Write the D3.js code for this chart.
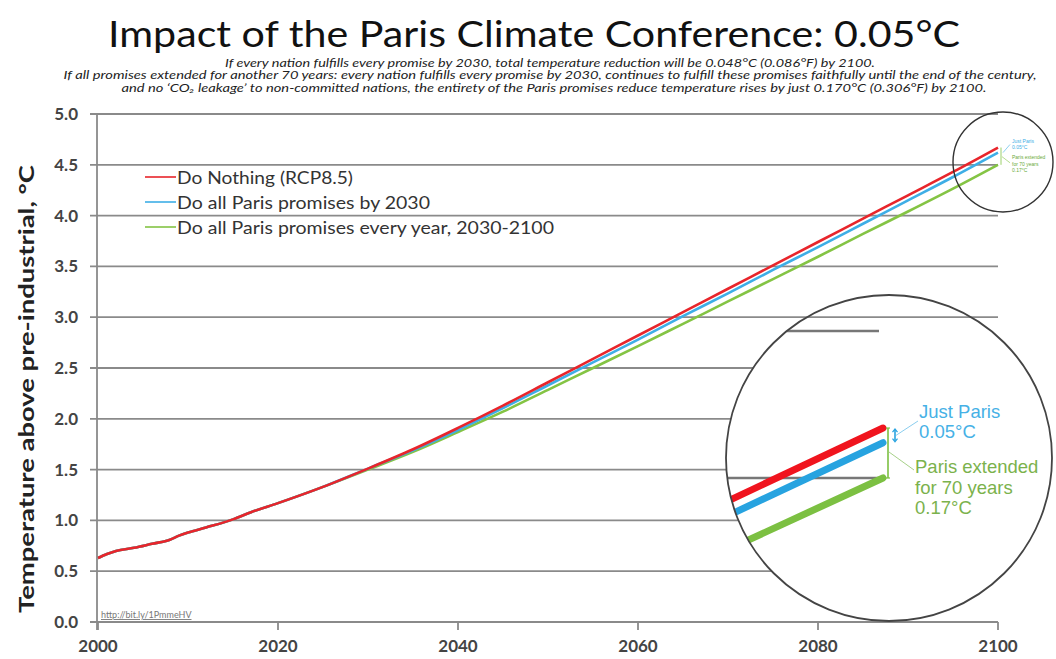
<!DOCTYPE html>
<html>
<head>
<meta charset="utf-8">
<script src="https://cdn.jsdelivr.net/npm/d3@7"></script>
<style>
  html, body { margin: 0; padding: 0; background: #fff; }
  svg { display: block; }
</style>
</head>
<body>
<svg id="chart" width="1056" height="659"></svg>
<script>
// ---------------- DATA ----------------
const years = [2000,2001,2002,2004,2006,2008,2009,2010,2012,2015,2017,2020,2025,2030,2035,2040,2045,2050,2055,2060,2065,2070,2075,2080,2085,2090,2095,2100];
const doNothing = [0.63,0.67,0.70,0.73,0.77,0.81,0.85,0.88,0.93,1.01,1.08,1.17,1.33,1.51,1.70,1.91,2.13,2.36,2.59,2.82,3.05,3.28,3.51,3.74,3.97,4.20,4.43,4.67];
const paris2030 = [0.63,0.67,0.70,0.73,0.77,0.81,0.85,0.88,0.93,1.01,1.08,1.17,1.33,1.51,1.69,1.89,2.105,2.33,2.555,2.78,3.01,3.235,3.465,3.69,3.92,4.15,4.38,4.62];
const parisEvery = [0.63,0.67,0.70,0.73,0.77,0.81,0.85,0.88,0.93,1.01,1.08,1.17,1.33,1.50,1.675,1.87,2.07,2.285,2.50,2.715,2.935,3.155,3.375,3.595,3.82,4.04,4.265,4.50];

const seriesNames = ["Do Nothing (RCP8.5)", "Do all Paris promises by 2030", "Do all Paris promises every year, 2030-2100"];
const seriesColors = ["#e8252b", "#3eaee6", "#84c444"];
const insetColors = ["#f0141e", "#27a3e0", "#7cc042"];

const yTicks = [0,0.5,1,1.5,2,2.5,3,3.5,4,4.5,5];
const xTicks = [2000,2020,2040,2060,2080,2100];
const insetGrid = [4.5, 5.0];

const titleText = "Impact of the Paris Climate Conference: 0.05°C";
const subLines = [
  "If every nation fulfills every promise by 2030, total temperature reduction will be 0.048°C (0.086°F) by 2100.",
  "If all promises extended for another 70 years: every nation fulfills every promise by 2030, continues to fulfill these promises faithfully until the end of the century,",
  "and no ‘CO₂ leakage’ to non-committed nations, the entirety of the Paris promises reduce temperature rises by just 0.170°C (0.306°F) by 2100."
];
const yTitle = "Temperature above pre-industrial, °C";
const sourceText = "http://bit.ly/1PmmeHV";
const justParis = ["Just Paris", "0.05°C"];
const extended = ["Paris extended", "for 70 years", "0.17°C"];

// ---------------- LAYOUT ----------------
const svg = d3.select("#chart");
const font = "Lato, 'Open Sans', sans-serif";
const x = d3.scaleLinear().domain([2000, 2100]).range([98, 998]);
const y = d3.scaleLinear().domain([0, 5]).range([622, 114]);

const series = [doNothing, paris2030, parisEvery].map((vals, i) => ({
  name: seriesNames[i], color: seriesColors[i], inset: insetColors[i],
  pts: years.map((yr, j) => ({year: yr, v: vals[j]}))
}));

// Title
svg.append("text").attr("x", 534).attr("y", 47).attr("text-anchor", "middle")
  .attr("font-family", font).attr("font-size", 36).attr("fill", "#111")
  .attr("textLength", 852).attr("lengthAdjust", "spacingAndGlyphs")
  .text(titleText);

const subW = [650, 973, 865];
const subX = [550, 550, 554];
const subY = [67, 79, 92];
subLines.forEach((t, i) => {
  svg.append("text").attr("x", subX[i]).attr("y", subY[i]).attr("text-anchor", "middle")
    .attr("font-family", font).attr("font-size", 10.5).attr("font-style", "italic").attr("fill", "#222")
    .attr("textLength", subW[i]).attr("lengthAdjust", "spacingAndGlyphs")
    .text(t);
});

// Gridlines
svg.append("g").selectAll("line").data(yTicks).join("line")
  .attr("x1", 90).attr("x2", x(2100))
  .attr("y1", d => y(d)).attr("y2", d => y(d))
  .attr("stroke", "#8a8a8a").attr("stroke-width", 1.8);

// Y axis line
svg.append("line").attr("x1", x(2000) - 1).attr("x2", x(2000) - 1)
  .attr("y1", y(5)).attr("y2", y(0) + 8).attr("stroke", "#8a8a8a").attr("stroke-width", 1.8);

// X ticks
svg.append("g").selectAll("line").data(xTicks).join("line")
  .attr("x1", d => x(d)).attr("x2", d => x(d)).attr("y1", y(0)).attr("y2", y(0) + 8)
  .attr("stroke", "#8a8a8a").attr("stroke-width", 1.8);

// Tick labels
svg.append("g").selectAll("text").data(yTicks).join("text")
  .attr("x", 78).attr("y", d => y(d)).attr("dy", "0.35em").attr("text-anchor", "end")
  .attr("font-family", font).attr("font-weight", "bold").attr("font-size", 17).attr("fill", "#444")
  .text(d => d3.format(".1f")(d));
svg.append("g").selectAll("text").data(xTicks).join("text")
  .attr("x", d => x(d)).attr("y", 652).attr("text-anchor", "middle")
  .attr("font-family", font).attr("font-weight", "bold").attr("font-size", 17).attr("fill", "#444")
  .text(d => d);

// Y title
svg.append("text").attr("transform", "translate(34," + 389 + ") rotate(-90)")
  .attr("text-anchor", "middle").attr("font-family", font).attr("font-weight", "bold")
  .attr("font-size", 21).attr("fill", "#222")
  .attr("textLength", 448).attr("lengthAdjust", "spacingAndGlyphs")
  .text(yTitle);

// Source
svg.append("text").attr("x", 101).attr("y", 618).attr("font-family", font).attr("font-size", 9)
  .attr("fill", "#777").attr("text-decoration", "underline").text(sourceText);

// Main lines
const line = d3.line().x(d => x(d.year)).y(d => y(d.v)).curve(d3.curveMonotoneX);
svg.append("g").selectAll("path").data(series.slice().reverse()).join("path")
  .attr("d", d => line(d.pts)).attr("fill", "none")
  .attr("stroke", d => d.color).attr("stroke-width", 2.6);

// Legend
const legW = [176, 253, 377];
const leg = svg.append("g");
series.forEach((s, i) => {
  const ly = 177 + i * 25;
  leg.append("line").attr("x1", 145).attr("x2", 176).attr("y1", ly).attr("y2", ly)
    .attr("stroke", s.color).attr("stroke-width", 1.6);
  leg.append("text").attr("x", 177).attr("y", ly).attr("dy", "0.38em")
    .attr("font-family", font).attr("font-size", 18).attr("fill", "#333")
    .attr("textLength", legW[i]).attr("lengthAdjust", "spacingAndGlyphs").text(s.name);
});

// Small circle (top right) with mini annotations
const sc = {cx: 1003, cy: 162, r: 50};
svg.append("circle").attr("cx", sc.cx).attr("cy", sc.cy).attr("r", sc.r)
  .attr("fill", "none").attr("stroke", "#333").attr("stroke-width", 1.4);
const ex = x(2100);
svg.append("line").attr("x1", ex + 3).attr("x2", ex + 3)
  .attr("y1", y(doNothing[doNothing.length-1])).attr("y2", y(parisEvery[parisEvery.length-1]))
  .attr("stroke", seriesColors[2]).attr("stroke-width", 0.8);
svg.append("line").attr("x1", ex + 5).attr("x2", ex + 12).attr("y1", y(4.62)).attr("y2", y(4.7))
  .attr("stroke", seriesColors[1]).attr("stroke-width", 0.6);
svg.append("line").attr("x1", ex + 4).attr("x2", ex + 12).attr("y1", y(4.58)).attr("y2", y(4.52))
  .attr("stroke", seriesColors[2]).attr("stroke-width", 0.6);
justParis.forEach((t, i) => svg.append("text").attr("x", 1012).attr("y", 143 + i * 6)
  .attr("font-family", "'Liberation Sans', Arial, sans-serif").attr("font-size", 5).attr("fill", seriesColors[1]).text(t));
extended.forEach((t, i) => svg.append("text").attr("x", 1012).attr("y", 159 + i * 6.5)
  .attr("font-family", "'Liberation Sans', Arial, sans-serif").attr("font-size", 5).attr("fill", "#6aaa3a").text(t));

// Big inset circle
const bc = {cx: 889, cy: 458, r: 163};
const defs = svg.append("defs");
defs.append("clipPath").attr("id", "insetClip").append("circle")
  .attr("cx", bc.cx).attr("cy", bc.cy).attr("r", bc.r);
defs.append("clipPath").attr("id", "fillClip").append("rect")
  .attr("x", 0).attr("y", 322).attr("width", 1056).attr("height", 400);

svg.append("circle").attr("cx", bc.cx).attr("cy", bc.cy).attr("r", bc.r)
  .attr("fill", "#fff").attr("clip-path", "url(#fillClip)");

const ix = d3.scaleLinear().domain([2094, 2100]).range([703, 883]);
const iy = d3.scaleLinear().domain([4.0, 5.0]).range([625, 331]);
const ins = svg.append("g").attr("clip-path", "url(#insetClip)");
ins.selectAll("line").data(insetGrid).join("line")
  .attr("x1", 600).attr("x2", ix(2100) - 4)
  .attr("y1", d => iy(d)).attr("y2", d => iy(d))
  .attr("stroke", "#777").attr("stroke-width", 2.6);
const iline = d3.line().x(d => ix(d.year)).y(d => iy(d.v));
ins.selectAll("path").data(series.slice().reverse()).join("path")
  .attr("d", d => iline(d.pts.filter(p => p.year >= 2085))).attr("fill", "none")
  .attr("stroke", d => d.inset).attr("stroke-width", 7).attr("stroke-linecap", "round");

svg.append("circle").attr("cx", bc.cx).attr("cy", bc.cy).attr("r", bc.r)
  .attr("fill", "none").attr("stroke", "#444").attr("stroke-width", 1.8);

// Inset annotations
const endR = iy(doNothing[doNothing.length-1]);
const endB = iy(paris2030[paris2030.length-1]);
const endG = iy(parisEvery[parisEvery.length-1]);
const gxB = ix(2100) + 5;
svg.append("line").attr("x1", gxB).attr("x2", gxB).attr("y1", endR).attr("y2", endG)
  .attr("stroke", "#7cc042").attr("stroke-width", 1.6);
[endR, endG].forEach(v => svg.append("line").attr("x1", gxB - 2).attr("x2", gxB + 2)
  .attr("y1", v).attr("y2", v).attr("stroke", "#7cc042").attr("stroke-width", 1.2));
const axB = ix(2100) + 12;
svg.append("line").attr("x1", axB).attr("x2", axB).attr("y1", endR + 2).attr("y2", endB - 2)
  .attr("stroke", "#27a3e0").attr("stroke-width", 1.6);
[[endR + 1, 1], [endB - 1, -1]].forEach(([v, s]) => svg.append("path")
  .attr("d", `M${axB - 2.5},${v + 3 * s} L${axB},${v} L${axB + 2.5},${v + 3 * s}`)
  .attr("fill", "none").attr("stroke", "#27a3e0").attr("stroke-width", 1.2));
svg.append("line").attr("x1", axB + 1).attr("x2", 918).attr("y1", (endR + endB) / 2).attr("y2", 421)
  .attr("stroke", "#6cc0ea").attr("stroke-width", 0.8);
svg.append("line").attr("x1", gxB + 1).attr("x2", 914).attr("y1", 452).attr("y2", 470)
  .attr("stroke", "#8fc46a").attr("stroke-width", 0.8);

justParis.forEach((t, i) => svg.append("text").attr("x", 919).attr("y", 418 + i * 19.5)
  .attr("font-family", "'Liberation Sans', Arial, sans-serif").attr("font-size", 18.5).attr("fill", "#46b1e6").text(t));
extended.forEach((t, i) => svg.append("text").attr("x", 915).attr("y", 473 + i * 20.5)
  .attr("font-family", "'Liberation Sans', Arial, sans-serif").attr("font-size", 18.5).attr("fill", "#7bb24c").text(t));
</script>
</body>
</html>
